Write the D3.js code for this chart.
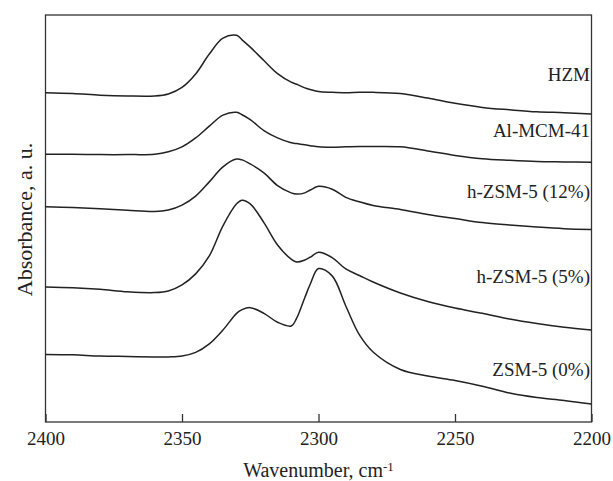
<!DOCTYPE html>
<html>
<head>
<meta charset="utf-8">
<script src="https://cdn.jsdelivr.net/npm/d3@7"></script>
<style>
  body { margin: 0; background: #fff; }
  text { font-family: "Liberation Serif", "Times New Roman", serif; fill: #222; }
</style>
</head>
<body>
<div id="chart"></div>
<script>
// wavenumber grid (cm-1), shared by all spectra
const wavenumbers = [2400, 2390, 2380, 2370, 2360, 2355, 2350, 2345, 2340, 2335, 2330, 2328, 2325, 2320, 2315,
  2310, 2308, 2305, 2303, 2300, 2295, 2290, 2285, 2280, 2270, 2260, 2250, 2240, 2230, 2220, 2210, 2200];

// absorbance (a.u., stacked as in the figure)
const hzm = [0.809, 0.807, 0.803, 0.801, 0.801, 0.806, 0.822, 0.855, 0.904, 0.943, 0.950, 0.939, 0.921, 0.888, 0.856,
  0.835, 0.830, 0.821, 0.817, 0.812, 0.810, 0.809, 0.810, 0.810, 0.807, 0.796, 0.783, 0.773, 0.767, 0.762, 0.760, 0.757];
const alMcm41 = [0.658, 0.658, 0.657, 0.657, 0.658, 0.664, 0.676, 0.698, 0.727, 0.754, 0.761, 0.755, 0.743, 0.716, 0.698,
  0.686, 0.684, 0.681, 0.679, 0.676, 0.675, 0.676, 0.677, 0.677, 0.676, 0.666, 0.655, 0.647, 0.643, 0.640, 0.639, 0.638];
const hZsm12 = [0.529, 0.527, 0.524, 0.520, 0.517, 0.521, 0.533, 0.555, 0.590, 0.627, 0.646, 0.644, 0.634, 0.612, 0.581,
  0.563, 0.560, 0.563, 0.570, 0.579, 0.572, 0.552, 0.541, 0.532, 0.522, 0.510, 0.500, 0.490, 0.484, 0.479, 0.475, 0.473];
const hZsm5 = [0.332, 0.330, 0.326, 0.320, 0.318, 0.322, 0.337, 0.364, 0.408, 0.482, 0.536, 0.545, 0.536, 0.490, 0.435,
  0.400, 0.393, 0.398, 0.405, 0.417, 0.404, 0.376, 0.360, 0.344, 0.317, 0.296, 0.280, 0.267, 0.253, 0.242, 0.233, 0.226];
const zsm5 = [0.166, 0.165, 0.162, 0.161, 0.160, 0.160, 0.162, 0.171, 0.192, 0.226, 0.267, 0.276, 0.281, 0.267, 0.245,
  0.236, 0.255, 0.306, 0.339, 0.377, 0.359, 0.285, 0.214, 0.172, 0.129, 0.113, 0.102, 0.088, 0.071, 0.060, 0.053, 0.044];

const seriesNames = ["HZM", "Al-MCM-41", "h-ZSM-5 (12%)", "h-ZSM-5 (5%)", "ZSM-5 (0%)"];
const seriesValues = [hzm, alMcm41, hZsm12, hZsm5, zsm5];
const xTicks = [2400, 2350, 2300, 2250, 2200];

// where each label sits (absorbance level of its baseline)
const labelLevel = [0.839, 0.701, 0.551, 0.341, 0.113];

// set the dimensions and margins of the graph
var margin = {top: 15, right: 21.5, bottom: 59, left: 45.5},
  width = 613 - margin.left - margin.right,
  height = 481 - margin.top - margin.bottom;

var svg = d3.select("#chart")
  .append("svg")
    .attr("width", 613)
    .attr("height", 481)
  .append("g")
    .attr("transform", "translate(" + margin.left + "," + margin.top + ")");

// X axis, reversed wavenumber
var x = d3.scaleLinear()
  .domain([2400, 2200])
  .range([0, width]);

var y = d3.scaleLinear()
  .domain([0, 1])
  .range([height, 0]);

var xAxis = svg.append("g")
  .attr("transform", "translate(0," + height + ")")
  .call(d3.axisBottom(x)
    .tickValues(xTicks)
    .tickFormat(d3.format("d"))
    .tickSizeInner(-8)
    .tickSizeOuter(0)
    .tickPadding(10));
xAxis.select(".domain").remove();
xAxis.selectAll(".tick line").attr("stroke", "#333").attr("stroke-width", 1.3);
xAxis.selectAll(".tick text")
  .style("font-family", "'Liberation Serif', 'Times New Roman', serif")
  .style("font-size", "19px")
  .attr("fill", "#222");

// frame
svg.append("rect")
  .attr("x", 0)
  .attr("y", 0)
  .attr("width", width)
  .attr("height", height)
  .attr("fill", "none")
  .attr("stroke", "#333")
  .attr("stroke-width", 1.3);

// spectra
var line = d3.line()
  .x(function(d, i) { return x(wavenumbers[i]); })
  .y(function(d) { return y(d); })
  .curve(d3.curveCatmullRom.alpha(0.5));

svg.selectAll(".spectrum")
  .data(seriesValues)
  .enter()
  .append("path")
    .attr("class", "spectrum")
    .attr("fill", "none")
    .attr("stroke", "#222")
    .attr("stroke-width", 1.5)
    .attr("d", line);

// labels at the right edge
svg.selectAll(".label")
  .data(seriesNames)
  .enter()
  .append("text")
    .attr("class", "label")
    .attr("x", width - 1.5)
    .attr("y", function(d, i) { return y(labelLevel[i]); })
    .attr("text-anchor", "end")
    .style("font-size", "19px")
    .text(function(d) { return d; });

// axis titles
var xTitle = svg.append("text")
  .attr("x", width / 2)
  .attr("y", height + 55)
  .attr("text-anchor", "middle")
  .style("font-size", "20px");
xTitle.append("tspan").text("Wavenumber, cm");
xTitle.append("tspan")
  .attr("dy", "-0.45em")
  .style("font-size", "13px")
  .text("-1");

svg.append("text")
  .attr("transform", "rotate(-90)")
  .attr("x", -(height / 2) - 1)
  .attr("y", -14)
  .attr("text-anchor", "middle")
  .style("font-size", "22px")
  .text("Absorbance, a. u.");
</script>
</body>
</html>
